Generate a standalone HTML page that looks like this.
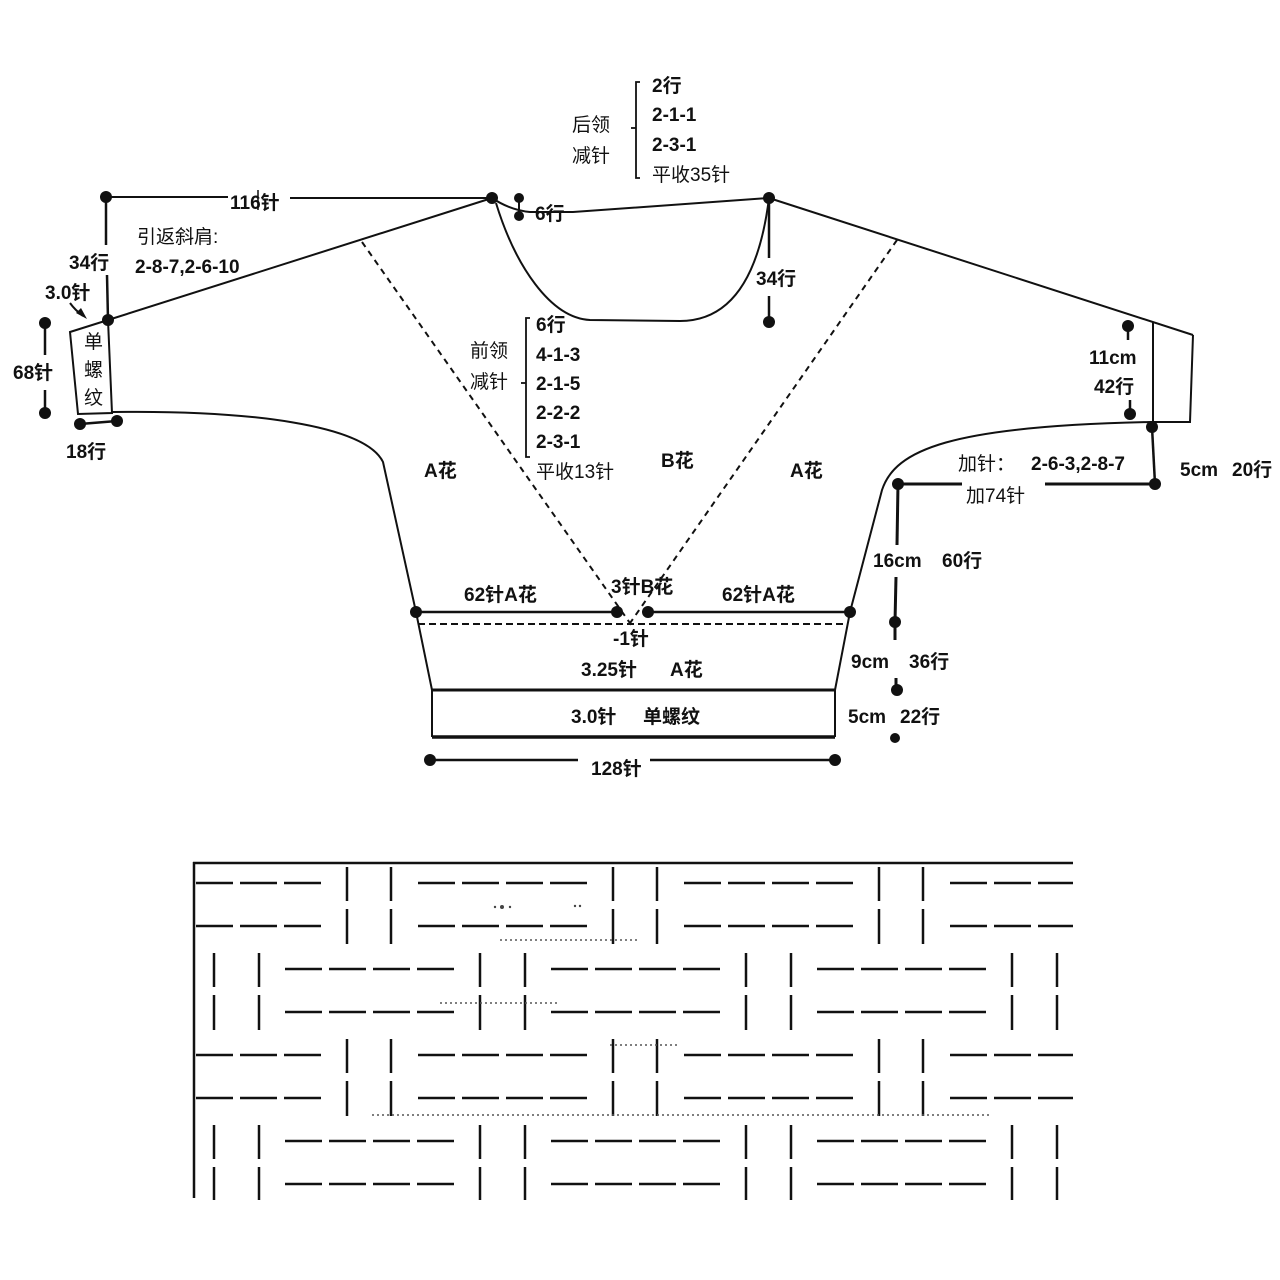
<!DOCTYPE html>
<html><head><meta charset="utf-8"><style>
html,body{margin:0;padding:0;background:#fff;}
svg{display:block}
text{font-family:"Liberation Sans","Noto Sans CJK SC",sans-serif;font-weight:bold;font-size:19px;fill:#111}
.n{font-weight:normal}
</style></head><body>
<svg width="1280" height="1280" viewBox="0 0 1280 1280" xmlns="http://www.w3.org/2000/svg">
<defs>
<pattern id="bw" patternUnits="userSpaceOnUse" x="337" y="865" width="266" height="172">
 <g stroke="#111" stroke-width="2.5" fill="none">
  <line x1="10" y1="2" x2="10" y2="36"/><line x1="10" y1="44" x2="10" y2="79"/>
  <line x1="54" y1="2" x2="54" y2="36"/><line x1="54" y1="44" x2="54" y2="79"/>
  <g stroke-dasharray="37 7">
   <line x1="81" y1="18" x2="250" y2="18"/><line x1="81" y1="61" x2="250" y2="61"/>
  </g>
  <line x1="143" y1="88" x2="143" y2="122"/><line x1="143" y1="130" x2="143" y2="165"/>
  <line x1="188" y1="88" x2="188" y2="122"/><line x1="188" y1="130" x2="188" y2="165"/>
  <g stroke-dasharray="37 7">
   <line x1="214" y1="104" x2="383" y2="104"/><line x1="214" y1="147" x2="383" y2="147"/>
   <line x1="-52" y1="104" x2="117" y2="104"/><line x1="-52" y1="147" x2="117" y2="147"/>
  </g>
 </g>
</pattern>
</defs>

<rect x="195" y="865" width="878" height="335" fill="url(#bw)"/>
<line x1="193" y1="863" x2="1073" y2="863" stroke="#111" stroke-width="2.5"/>
<line x1="194" y1="862" x2="194" y2="1198" stroke="#111" stroke-width="2.5"/>
<g fill="#444">
 <circle cx="502" cy="907" r="2"/><circle cx="495" cy="907" r="1.2"/><circle cx="510" cy="907" r="1.2"/>
 <circle cx="575" cy="906" r="1.2"/><circle cx="580" cy="906" r="1.2"/>
</g>
<g stroke="#555" stroke-width="1.5" stroke-dasharray="2 3" fill="none">
 <line x1="372" y1="1115" x2="990" y2="1115"/>
 <line x1="440" y1="1003" x2="560" y2="1003"/>
 <line x1="610" y1="1045" x2="680" y2="1045"/>
 <line x1="500" y1="940" x2="640" y2="940"/>
</g>

<g stroke="#111" fill="none" stroke-width="2">
 <line x1="106" y1="197" x2="228" y2="197"/>
 <line x1="290" y1="198" x2="492" y2="198"/>
 <line x1="258" y1="190" x2="258" y2="210" stroke-width="1.5"/>
 <line x1="106" y1="197" x2="106" y2="245" stroke-width="2.5"/>
 <line x1="107" y1="275" x2="108" y2="320" stroke-width="2.5"/>
 <line x1="108" y1="320" x2="492" y2="198"/>
 <polygon points="70,332 108,320 112,413 78,414"/>
 <line x1="45" y1="323" x2="45" y2="355" stroke-width="2.5"/>
 <line x1="45" y1="390" x2="45" y2="413" stroke-width="2.5"/>
 <line x1="80" y1="424" x2="117" y2="421" stroke-width="2.5"/>
 <path d="M70,303 Q75,310 83,316" stroke-width="2"/>
 <path d="M112,412 C250,410 365,425 383,462 L416,612 L432,690"/>
 <path d="M1150,422 C950,426 895,450 882,490 L850,612 L835,690"/>
 <line x1="769" y1="198" x2="1193" y2="335"/>
 <polyline points="1193,335 1190,422 1150,422"/>
 <line x1="1153" y1="322" x2="1153" y2="422"/>
 <path d="M492,198 Q510,210 530,212 L573,212 L769,198"/>
 <path d="M496,203 C515,265 550,318 590,320 L680,321 C735,321 760,270 769,198"/>
 <line x1="769" y1="198" x2="769" y2="258" stroke-width="2.5"/>
 <line x1="769" y1="296" x2="769" y2="322" stroke-width="2.5"/>
 <line x1="519" y1="198" x2="519" y2="216"/>
 <line x1="362" y1="242" x2="632" y2="626" stroke-dasharray="6 5"/>
 <line x1="897" y1="240" x2="628" y2="626" stroke-dasharray="6 5"/>
 <line x1="416" y1="612" x2="617" y2="612" stroke-width="2.5"/>
 <line x1="648" y1="612" x2="850" y2="612" stroke-width="2.5"/>
 <line x1="418" y1="624" x2="848" y2="624" stroke-dasharray="7 4"/>
 <line x1="432" y1="690" x2="835" y2="690" stroke-width="3"/>
 <line x1="432" y1="690" x2="432" y2="737"/>
 <line x1="835" y1="690" x2="835" y2="737"/>
 <line x1="432" y1="737" x2="835" y2="737" stroke-width="3.5"/>
 <line x1="430" y1="760" x2="578" y2="760" stroke-width="2.5"/>
 <line x1="650" y1="760" x2="835" y2="760" stroke-width="2.5"/>
 <line x1="1128" y1="326" x2="1128" y2="340" stroke-width="2.5"/>
 <line x1="1130" y1="400" x2="1130" y2="414" stroke-width="2.5"/>
 <line x1="1152" y1="427" x2="1155" y2="484" stroke-width="2.5"/>
 <line x1="898" y1="484" x2="962" y2="484" stroke-width="3"/>
 <line x1="1045" y1="484" x2="1155" y2="484" stroke-width="3"/>
 <line x1="898" y1="484" x2="897" y2="545" stroke-width="3"/>
 <line x1="896" y1="577" x2="895" y2="622" stroke-width="3"/>
 <line x1="895" y1="622" x2="895" y2="640" stroke-width="3"/>
 <line x1="896" y1="678" x2="896" y2="690" stroke-width="3"/>
 <polyline points="640,82 636,82 636,178 640,178" stroke-width="1.8"/>
 <line x1="631" y1="128" x2="636" y2="128" stroke-width="1.8"/>
 <polyline points="530,318 526,318 526,457 530,457" stroke-width="1.8"/>
 <line x1="521" y1="383" x2="526" y2="383" stroke-width="1.8"/>
</g>
<polygon points="87,319 76,313 81,308" fill="#111"/>

<g fill="#111">
 <circle cx="106" cy="197" r="6"/><circle cx="492" cy="198" r="6"/><circle cx="108" cy="320" r="6"/>
 <circle cx="769" cy="198" r="6"/><circle cx="769" cy="322" r="6"/>
 <circle cx="519" cy="198" r="5"/><circle cx="519" cy="216" r="5"/>
 <circle cx="45" cy="323" r="6"/><circle cx="45" cy="413" r="6"/>
 <circle cx="80" cy="424" r="6"/><circle cx="117" cy="421" r="6"/>
 <circle cx="416" cy="612" r="6"/><circle cx="617" cy="612" r="6"/><circle cx="648" cy="612" r="6"/><circle cx="850" cy="612" r="6"/>
 <circle cx="430" cy="760" r="6"/><circle cx="835" cy="760" r="6"/>
 <circle cx="1128" cy="326" r="6"/><circle cx="1130" cy="414" r="6"/>
 <circle cx="1152" cy="427" r="6"/><circle cx="1155" cy="484" r="6"/>
 <circle cx="898" cy="484" r="6"/><circle cx="895" cy="622" r="6"/><circle cx="897" cy="690" r="6"/><circle cx="895" cy="738" r="5"/>
</g>

<text x="230" y="209">116针</text>
<text x="69" y="269">34行</text>
<text x="137" y="243" class="n">引返斜肩:</text>
<text x="135" y="273">2-8-7,2-6-10</text>
<text x="45" y="299">3.0针</text>
<text x="13" y="379">68针</text>
<text x="66" y="458">18行</text>
<text x="84" y="348" class="n" font-size="18">单</text>
<text x="84" y="376" class="n" font-size="18">螺</text>
<text x="84" y="404" class="n" font-size="18">纹</text>

<text x="572" y="131" class="n">后领</text>
<text x="572" y="162" class="n">减针</text>
<text x="652" y="92">2行</text>
<text x="652" y="121">2-1-1</text>
<text x="652" y="151">2-3-1</text>
<text x="652" y="181" class="n">平收35针</text>
<text x="535" y="220">6行</text>
<text x="756" y="285">34行</text>

<text x="470" y="357" class="n">前领</text>
<text x="470" y="388" class="n">减针</text>
<text x="536" y="331">6行</text>
<text x="536" y="361">4-1-3</text>
<text x="536" y="390">2-1-5</text>
<text x="536" y="419">2-2-2</text>
<text x="536" y="448">2-3-1</text>
<text x="536" y="478" class="n">平收13针</text>

<text x="424" y="477">A花</text>
<text x="661" y="467">B花</text>
<text x="790" y="477">A花</text>

<text x="1089" y="364">11cm</text>
<text x="1094" y="393">42行</text>
<text x="958" y="470" class="n">加针：</text>
<text x="1031" y="470">2-6-3,2-8-7</text>
<text x="966" y="502" class="n">加74针</text>
<text x="1180" y="476">5cm</text><text x="1232" y="476">20行</text>
<text x="873" y="567">16cm</text><text x="942" y="567">60行</text>
<text x="851" y="668">9cm</text><text x="909" y="668">36行</text>
<text x="848" y="723">5cm</text><text x="900" y="723">22行</text>

<text x="464" y="601">62针A花</text>
<text x="611" y="593">3针B花</text>
<text x="722" y="601">62针A花</text>
<text x="613" y="645">-1针</text>
<text x="581" y="676">3.25针</text><text x="670" y="676">A花</text>
<text x="571" y="723">3.0针</text><text x="643" y="723">单螺纹</text>
<text x="591" y="775">128针</text>
</svg>
</body></html>
